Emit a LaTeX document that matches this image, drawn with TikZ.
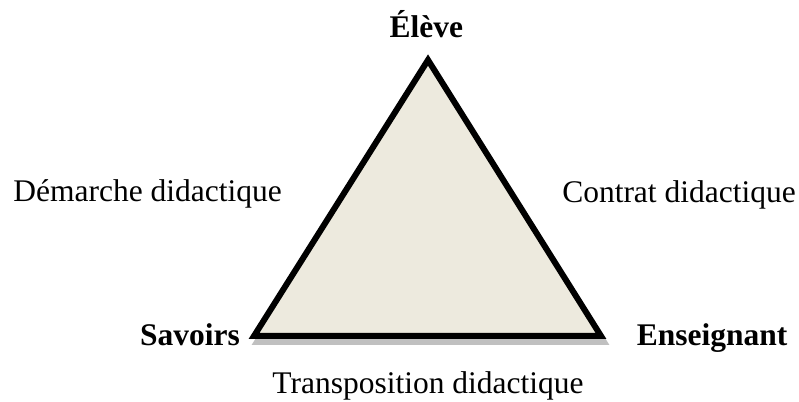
\documentclass[tikz,border=0pt]{standalone}
\usepackage{fontspec}
\setmainfont{Liberation Serif}
\usepackage{xcolor}
\usepackage{tikz}
\usetikzlibrary{positioning, calc}

\definecolor{fondtri}{RGB}{237,234,222}
\definecolor{ombre}{RGB}{192,192,192}

\begin{document}
\begin{tikzpicture}[
    % Taille et police communes à tous les textes
    every node/.style={font=\fontsize{22.4}{27}\selectfont, inner sep=0pt},
    pole/.style={anchor=base, font=\fontsize{22.4}{27}\selectfont\bfseries},
    relation/.style={anchor=base},
    tri/.style={draw=black, fill=fondtri, line width=0.15cm, line join=miter},
    tri ombre/.style={draw=ombre, fill=ombre, line width=0.15cm, line join=miter}
]
    \useasboundingbox (0,0) rectangle (19.975,10.05);

    % --- Sommets du triangle ---
    \coordinate (haut) at (10.7,8.55);
    \coordinate (gauche) at (6.35,1.65);
    \coordinate (droite) at (15.025,1.65);

    % --- Ombre puis triangle ---
    \draw[tri ombre] ($(haut)+(0.075,-0.15)$) -- ($(gauche)+(0.075,-0.15)$)
        -- ($(droite)+(0.075,-0.15)$) -- cycle;
    \draw[tri] (haut) -- (gauche) -- (droite) -- cycle;

    % --- Pôles ---
    \node[pole] (eleve) at (10.66,9.1) {Élève};
    \node[pole] (savoirs) at (4.75,1.4) {Savoirs};
    \node[pole] (enseignant) at (17.8,1.4) {Enseignant};

    % --- Relations ---
    \node[relation] (demarche) at (3.69,5.0) {Démarche didactique};
    \node[relation] (contrat) at (16.975,4.975) {Contrat didactique};
    \node[relation] (transpo) at (10.7,0.2) {Transposition didactique};
\end{tikzpicture}
\end{document}
